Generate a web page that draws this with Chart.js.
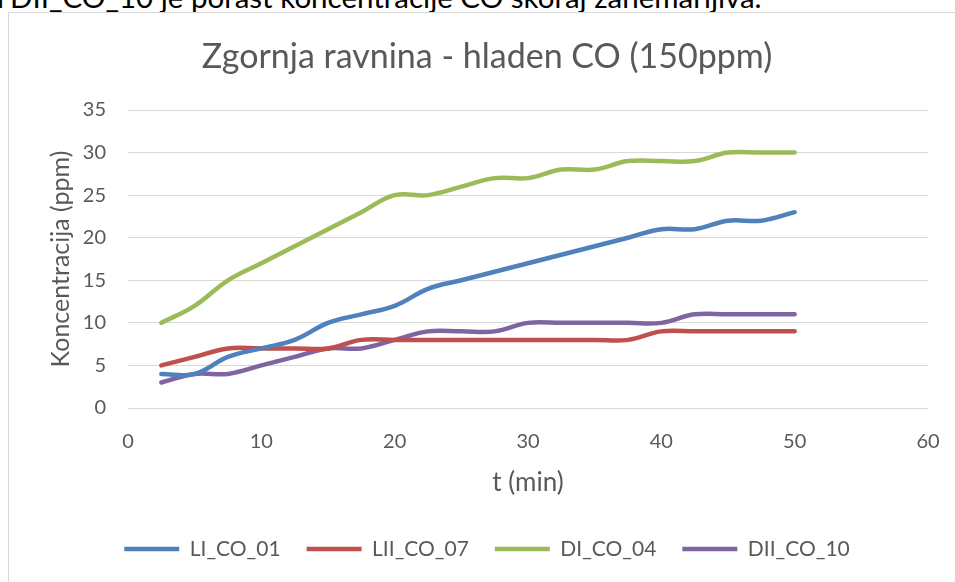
<!DOCTYPE html>
<html>
<head>
<meta charset="utf-8">
<script src="https://cdn.jsdelivr.net/npm/chart.js@4.4.1/dist/chart.umd.min.js"></script>
<style>
  html, body { margin: 0; padding: 0; background: #fff; overflow: hidden; }
  body { width: 955px; height: 582px; position: relative; font-family: Lato, sans-serif; }
  #lead { position: absolute; left: 10px; top: -21px; font-size: 29.5px; line-height: 1.2; color: #000; white-space: nowrap; }
  #lead .pre { position: absolute; right: 100%; padding-right: 0.2em; }
  #frame { position: absolute; left: 8px; top: 12px; width: 958px; height: 600px; border: 1px solid #d9d9d9; }
  #wrap { position: absolute; left: 9px; top: 13px; width: 958px; height: 569px; }
</style>
</head>
<body>
<div id="lead"><span class="pre">pri</span>DII_CO_10 je porast koncentracije CO skoraj zanemarljiva.</div>
<div id="frame"></div>
<div id="wrap"><canvas id="chart"></canvas></div>
<script>
// meritve na vsakih 2,5 min
const times = [2.5, 5, 7.5, 10, 12.5, 15, 17.5, 20, 22.5, 25, 27.5, 30, 32.5, 35, 37.5, 40, 42.5, 45, 47.5, 50];
const liCo01  = [4, 4, 6, 7, 8, 10, 11, 12, 14, 15, 16, 17, 18, 19, 20, 21, 21, 22, 22, 23];
const liiCo07 = [5, 6, 7, 7, 7, 7, 8, 8, 8, 8, 8, 8, 8, 8, 8, 9, 9, 9, 9, 9];
const diCo04  = [10, 12, 15, 17, 19, 21, 23, 25, 25, 26, 27, 27, 28, 28, 29, 29, 29, 30, 30, 30];
const diiCo10 = [3, 4, 4, 5, 6, 7, 7, 8, 9, 9, 9, 10, 10, 10, 10, 10, 11, 11, 11, 11];

const seriesNames = ['LI_CO_01', 'LII_CO_07', 'DI_CO_04', 'DII_CO_10'];
const seriesColors = ['#4f81bd', '#c0504d', '#9bbb59', '#8064a2'];
const seriesValues = [liCo01, liiCo07, diCo04, diiCo10];

const yTicks = [0, 5, 10, 15, 20, 25, 30, 35];
const xTicks = [0, 10, 20, 30, 40, 50, 60];

Chart.defaults.font.family = 'Lato, sans-serif';
Chart.defaults.color = '#595959';

const datasets = seriesValues.map((vals, i) => ({
  label: seriesNames[i],
  data: vals.map((v, j) => ({ x: times[j], y: v })),
  borderColor: seriesColors[i],
  backgroundColor: seriesColors[i],
  borderWidth: 4.5,
  borderCapStyle: 'round',
  borderJoinStyle: 'round',
  pointRadius: 0,
  tension: 0.4
}));

new Chart(document.getElementById('chart'), {
  type: 'line',
  data: { datasets },
  options: {
    responsive: true,
    maintainAspectRatio: false,
    animation: false,
    layout: { padding: { left: 37, right: 39, top: 0, bottom: 12.5 } },
    scales: {
      x: {
        type: 'linear',
        min: xTicks[0],
        max: xTicks[xTicks.length - 1],
        afterBuildTicks: s => { s.ticks = xTicks.map(v => ({ value: v })); },
        afterFit: s => { s.height = 104.5; },
        grid: { display: false, drawTicks: false },
        border: { display: false },
        ticks: { padding: 22, font: { size: 20 }, maxRotation: 0 },
        title: { display: true, text: 't (min)', font: { size: 26 }, padding: { top: 0, bottom: 14 } }
      },
      y: {
        min: yTicks[0],
        max: yTicks[yTicks.length - 1],
        afterBuildTicks: s => { s.ticks = yTicks.map(v => ({ value: v })); },
        afterFit: s => { s.width = 82; },
        grid: { color: '#d9d9d9', lineWidth: 1, drawTicks: false },
        border: { display: false },
        ticks: { padding: 22, font: { size: 20 } },
        title: { display: true, text: 'Koncentracija (ppm)', font: { size: 25 }, padding: { top: 0, bottom: 0 } }
      }
    },
    plugins: {
      title: {
        display: true,
        text: 'Zgornja ravnina - hladen CO (150ppm)',
        font: { size: 34, weight: 'normal' },
        color: '#595959',
        padding: { top: 24, bottom: 32.2 }
      },
      legend: {
        position: 'bottom',
        labels: {
          usePointStyle: true,
          pointStyle: 'line',
          pointStyleWidth: 55,
          font: { size: 21 },
          padding: 26
        }
      },
      tooltip: { enabled: false }
    }
  }
});
</script>
</body>
</html>
